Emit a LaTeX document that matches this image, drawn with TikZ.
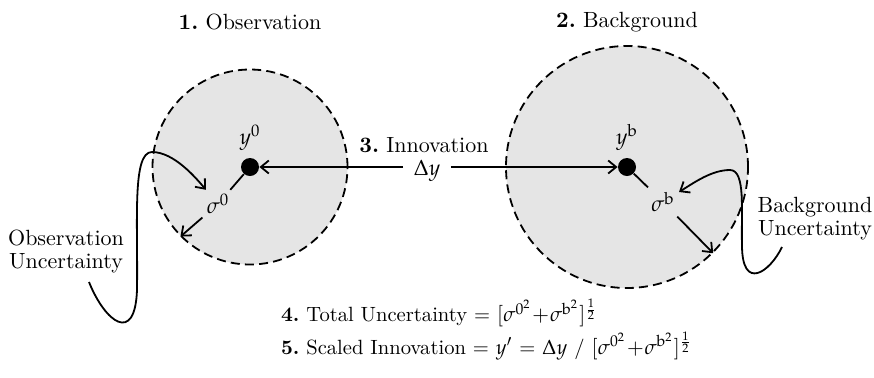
\documentclass[tikz,border=0pt]{standalone}
\usepackage{amsmath,amssymb}
\usepackage{mathpazo}
\usepackage{fontspec}
\setmainfont{Latin Modern Roman}
\frenchspacing
\usepackage{xcolor}
\usepackage{tikz}
\usetikzlibrary{arrows.meta,positioning,calc}

\begin{document}
\begin{tikzpicture}[x=0.5pt,y=-0.5pt,>={Straight Barb[length=4pt,width=6.5pt]},
  every node/.style={font=\fontsize{11}{12.5}\selectfont},
  region/.style={circle,draw,fill=black!10,line width=0.9pt,dash pattern=on 4.5pt off 2.6pt,inner sep=0pt},
  dot/.style={circle,fill=black,inner sep=0pt,minimum size=9pt},
  link/.style={line width=0.9pt},
  linkarr/.style={->,line width=0.9pt},
  formula/.style={anchor=west,font=\fontsize{10.3}{12}\selectfont}]
  \useasboundingbox (0,0) rectangle (874,377);
  % the two regions
  \node[region,minimum size=97.5pt] (obs) at (250,167) {};
  \node[region,minimum size=121pt]  (bg)  at (627,167) {};
  \node[dot] (dotobs) at (250,167) {};
  \node[dot] (dotbg)  at (627,167) {};
  \node (obstitle) at (250,22) {\textbf{1.} Observation};
  \node (bgtitle)  at (627,22) {\textbf{2.} Background};
  \node[above=0pt of dotobs] (yobs) {$y^{0}$};
  \node[above=0pt of dotbg]  (ybg)  {$y^{\mathrm{b}}$};
  % innovation
  \node (innov) at (424,145) {\textbf{3.} Innovation};
  \node[inner xsep=5pt] (dy) at (427,171) {$\Delta y$};
  \draw[linkarr] (dy.west |- dotobs) -- (dotobs);
  \draw[linkarr] (dy.east |- dotbg) -- (dotbg);
  % uncertainties
  \node[inner sep=2pt] (sigobs) at (218,204) {$\sigma^{0}$};
  \node[inner sep=2pt] (sigbg)  at (663,202) {$\sigma^{\mathrm{b}}$};
  \draw[link] (dotobs) -- (sigobs);
  \draw[linkarr] (sigobs) -- (obs.225);
  \draw[link] (dotbg) -- (sigbg);
  \draw[linkarr] (sigbg) -- (bg.-45);
  \node[align=center] (obsunc) at (66,251) {Observation\\[-1pt]Uncertainty};
  \node[align=center] (bgunc)  at (815,219) {Background\\[-1pt]Uncertainty};
  \coordinate (obstail) at (89,282);
  \coordinate (bgtail)  at (782,247);
  \draw[linkarr] (obstail) .. controls (105,322) and (135,345) .. (137,290)
    .. controls (138,220) and (132,152) .. (152,152)
    .. controls (174,152) and (196,178) .. (sigobs);
  \draw[linkarr] (bgtail) .. controls (770,272) and (742,292) .. (742,245)
    .. controls (741,212) and (746,170) .. (730,170)
    .. controls (712,170) and (695,182) .. (sigbg);
  % formulas
  \node[formula] (total) at (274,313)
    {\textbf{4.} Total Uncertainty = $[\sigma^{0^2}\!+\!\sigma^{\mathrm{b}^2}]^{\frac{1}{2}}$};
  \node[formula] (scaled) at (274,346)
    {\textbf{5.} Scaled Innovation = $y'$ = $\Delta y$ / $[\sigma^{0^2}\!+\!\sigma^{\mathrm{b}^2}]^{\frac{1}{2}}$};
\end{tikzpicture}
\end{document}
